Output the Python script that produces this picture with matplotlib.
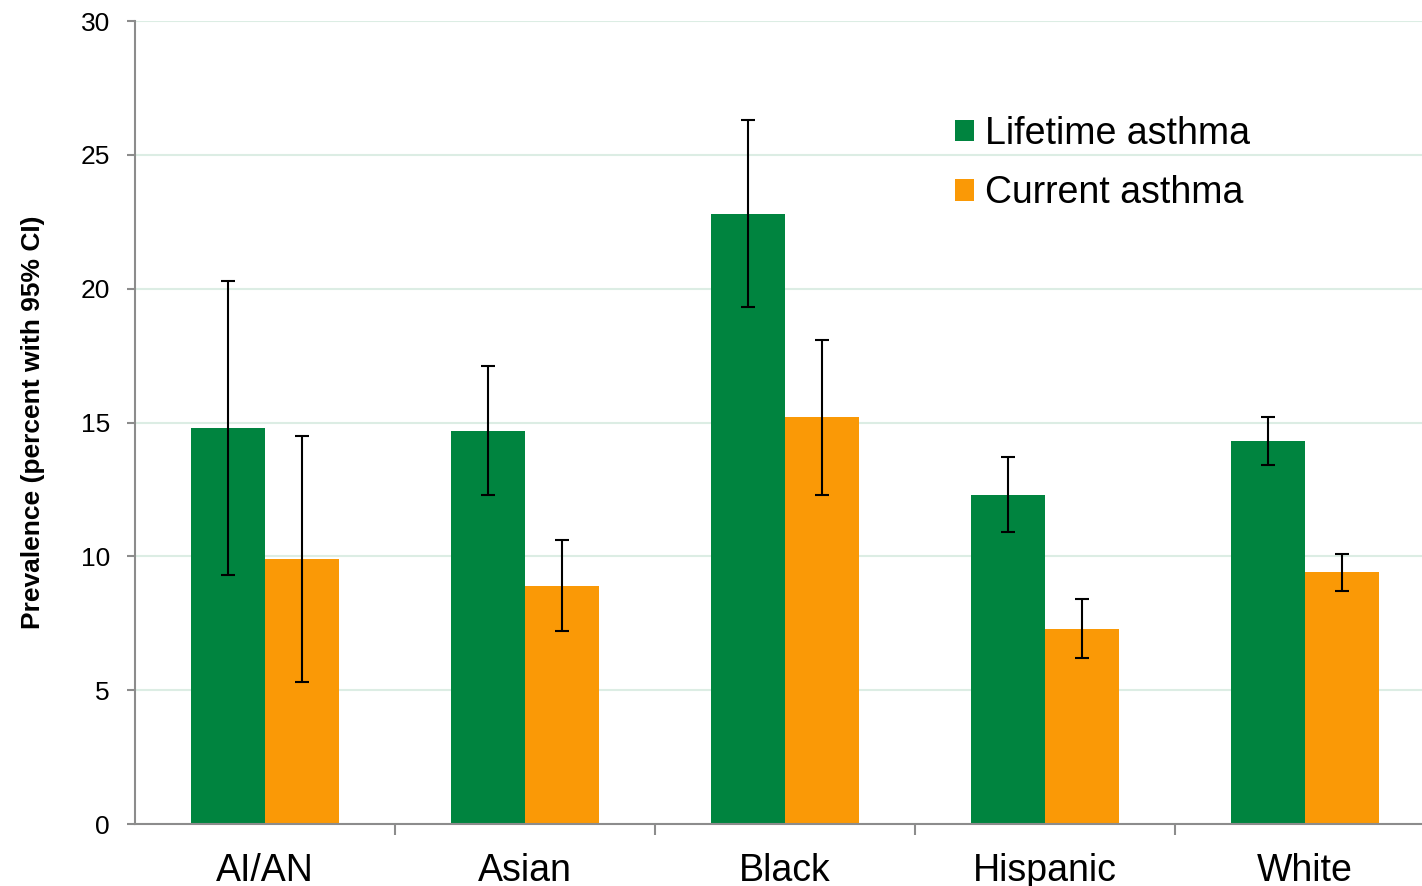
import matplotlib
matplotlib.use("Agg")
import matplotlib.pyplot as plt
import numpy as np
from matplotlib.patches import Patch

plt.rcParams['font.family'] = ['Liberation Sans', 'DejaVu Sans']

groups = ["AI/AN", "Asian", "Black", "Hispanic", "White"]
lifetime = [14.8, 14.7, 22.8, 12.3, 14.3]
lifetime_lo = [9.3, 12.3, 19.3, 10.9, 13.4]
lifetime_hi = [20.3, 17.1, 26.3, 13.7, 15.2]
current = [9.9, 8.9, 15.2, 7.3, 9.4]
current_lo = [5.3, 7.2, 12.3, 6.2, 8.7]
current_hi = [14.5, 10.6, 18.1, 8.4, 10.1]
y_ticks = [0, 5, 10, 15, 20, 25, 30]

green = "#00843F"
orange = "#FA9906"
grid_col = "#DCEDE4"
axis_col = "#8C8C8C"

fig = plt.figure(figsize=(14.22, 8.86), dpi=100)
# the plot area runs slightly past the right edge of the canvas
ax = fig.add_axes([135 / 1422, 62 / 886, 1300 / 1422, (824 - 21) / 886])

x = np.arange(len(groups))
w = 0.285

lt = np.array(lifetime)
cu = np.array(current)
lt_err = [lt - np.array(lifetime_lo), np.array(lifetime_hi) - lt]
cu_err = [cu - np.array(current_lo), np.array(current_hi) - cu]

ax.bar(x - w / 2, lt, w, color=green, zorder=2)
ax.bar(x + w / 2, cu, w, color=orange, zorder=2)
ebkw = dict(fmt="none", ecolor="black", elinewidth=1.5, capsize=5, capthick=1.5, zorder=3)
ax.errorbar(x - w / 2, lt, yerr=lt_err, **ebkw)
ax.errorbar(x + w / 2, cu, yerr=cu_err, **ebkw)

ax.set_xlim(-0.5, len(groups) - 0.5)
ax.set_ylim(0, 30)
ax.set_yticks(y_ticks)
ax.set_yticklabels([str(t) for t in y_ticks], fontsize=19)
ax.yaxis.grid(True, color=grid_col, linewidth=1.5, zorder=0)
ax.set_axisbelow(True)

ax.set_xticks(x)
ax.set_xticklabels(groups, fontsize=27)
ax.set_xticks(np.arange(0.5, len(groups) - 0.5, 1), minor=True)
ax.tick_params(axis="x", which="major", length=0, pad=21)
ax.tick_params(axis="x", which="minor", length=8, width=1.5, color=axis_col, direction="out")
ax.tick_params(axis="y", length=6, width=1.5, color=axis_col, pad=12)

for s in ["top", "right"]:
    ax.spines[s].set_visible(False)
for s in ["left", "bottom"]:
    ax.spines[s].set_color(axis_col)
    ax.spines[s].set_linewidth(1.5)

ax.set_ylabel("Prevalence (percent with 95% CI)", fontsize=19, fontweight="bold")
ax.yaxis.set_label_coords(-0.0695, 0.5)

handles = [Patch(facecolor=green, label="Lifetime asthma"),
           Patch(facecolor=orange, label="Current asthma")]
fig.legend(handles=handles, loc="upper left", bbox_to_anchor=(955 / 1422, 1 - 116 / 886),
           frameon=False, fontsize=27, handlelength=0.5, handleheight=0.5,
           handletextpad=0.3, labelspacing=0.62, borderpad=0, borderaxespad=0)

fig.savefig("out.png", dpi=100)
